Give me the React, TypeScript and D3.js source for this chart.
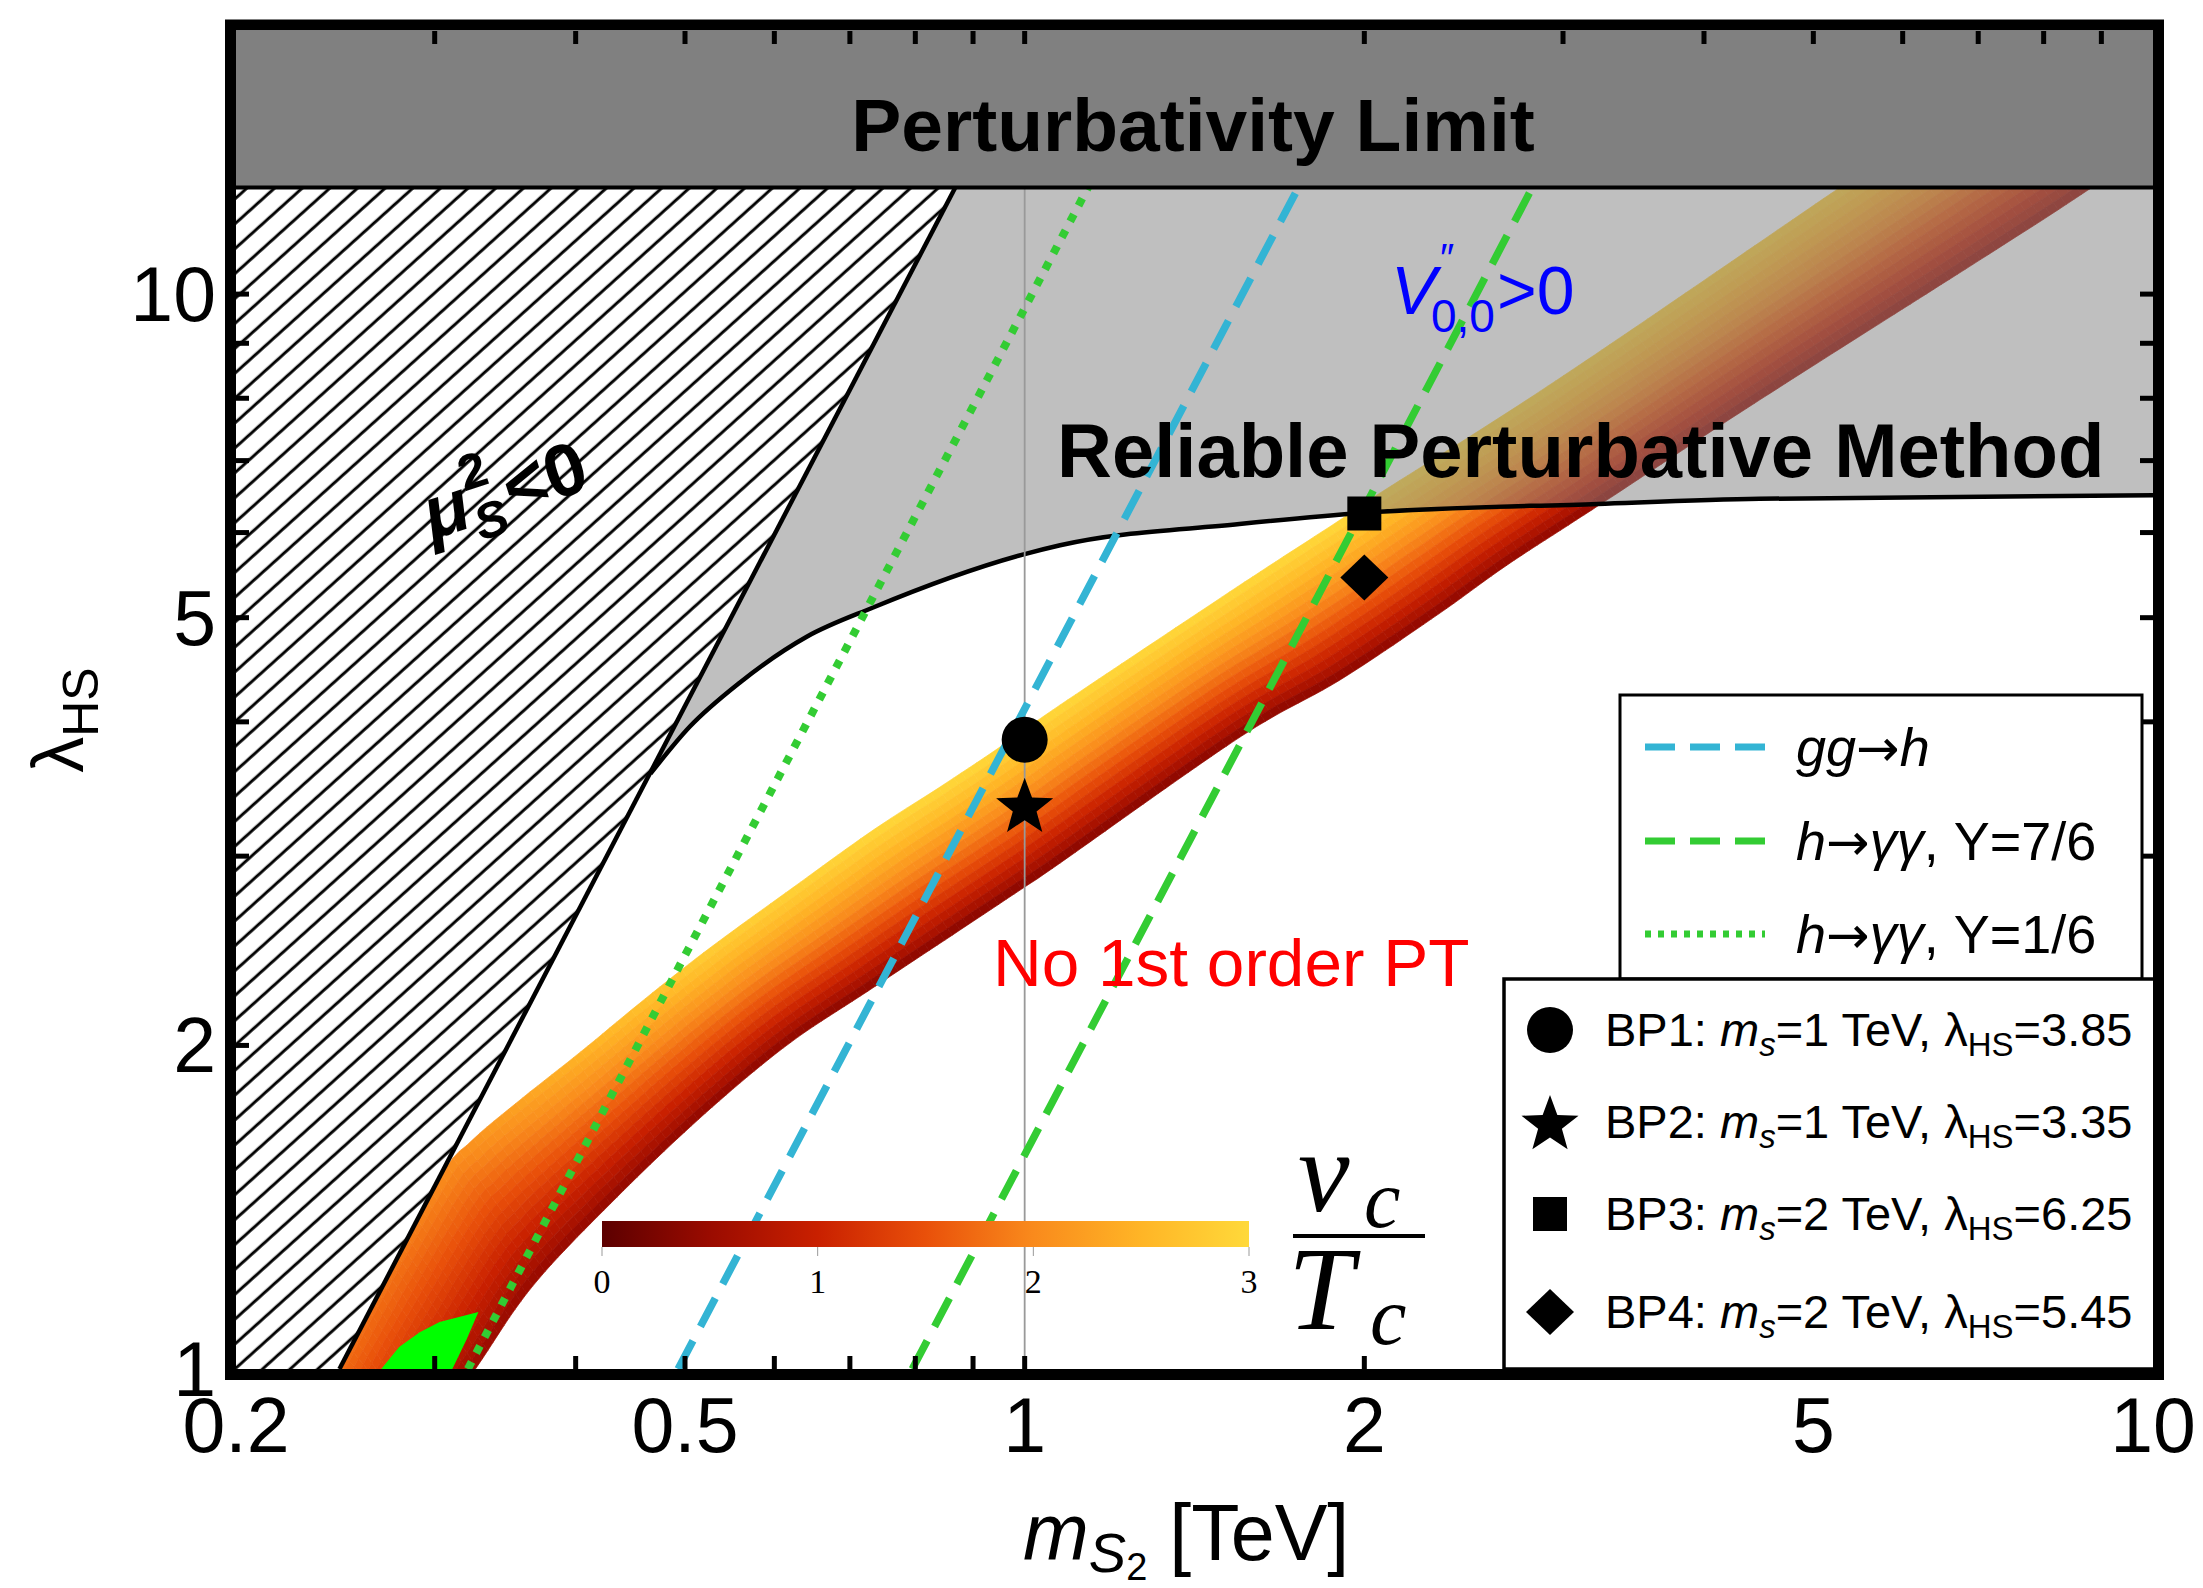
import React, { useMemo } from 'react';
import * as d3 from 'd3';

const WIDTH = 2203;
const HEIGHT = 1588;

// ---- axes ----
const X_DOMAIN: [number, number] = [0.2, 10];
const Y_DOMAIN: [number, number] = [1, 17.57];
const xMinorTicks = [0.3, 0.4, 0.5, 0.6, 0.7, 0.8, 0.9, 1, 2, 3, 4, 5, 6, 7, 8, 9];
const xLabelTicks = [0.2, 0.5, 1, 2, 5, 10];
const yMinorTicks = [2, 3, 4, 5, 6, 7, 8, 9, 10];
const yLabelTicks = [1, 2, 5, 10];
const PERT_LIMIT = 12.566; // 4*pi

// ---- regions / curves (m_S2 [TeV], lambda_HS) ----
const muBoundary: [number, number][] = [[0.247, 1], [0.868, 12.566]];
const reliableCurve: [number, number][] = [
  [0.466, 3.58], [0.505, 3.96], [0.559, 4.35], [0.641, 4.8], [0.734, 5.11], [1.0, 5.73],
  [1.075, 5.84], [1.55, 6.11], [2.0, 6.26], [3.22, 6.38], [4.48, 6.45], [10, 6.5],
];
const gghLine: [number, number][] = [[0.493, 1], [1.748, 12.566]];
const hgg76Line: [number, number][] = [[0.795, 1], [2.818, 12.566]];
const hgg16Line: [number, number][] = [[0.321, 1], [1.138, 12.566]];

// v_c/T_c band: upper-left edge and lower-right edge
const bandUpper: [number, number][] = [
  [0.223, 0.805], [0.246, 1.0], [0.302, 1.493], [0.322, 1.623], [0.357, 1.779], [0.404, 1.972],
  [0.456, 2.19], [0.523, 2.453], [0.619, 2.79], [0.734, 3.172], [0.841, 3.478], [0.951, 3.79],
  [1.075, 4.147], [1.552, 5.362], [1.903, 6.163], [2.065, 6.53], [2.963, 8.317], [5.28, 12.57],
  [7.32, 15.88],
];
const bandLower: [number, number][] = [
  [0.294, 0.859], [0.326, 1.0], [0.367, 1.197], [0.436, 1.448], [0.519, 1.723], [0.616, 2.002],
  [0.731, 2.257], [0.871, 2.55], [0.997, 2.802], [1.075, 2.956], [1.552, 3.872], [1.903, 4.375],
  [2.334, 5.05], [2.676, 5.596], [3.22, 6.35], [4.48, 7.97], [7.32, 11.06], [8.83, 12.57], [12.19, 15.8],
];
const bandValueM = [0.22, 0.3, 0.4, 0.55, 0.8, 1.2, 2, 4, 10];
const bandValueUpper = [1.6, 1.85, 2.4, 2.85, 3.0, 3.0, 3.0, 2.9, 2.8];
const bandValueLower = [0.5, 0.45, 0.35, 0.3, 0.25, 0.25, 0.3, 0.35, 0.4];

const greenBlob: [number, number][] = [
  [0.269, 1], [0.279, 1.048], [0.291, 1.082], [0.303, 1.106], [0.328, 1.13], [0.32, 1.064], [0.311, 1],
];

// colour map for v_c/T_c
const cmapValues = [0, 0.5, 1, 1.5, 2, 2.5, 3];
const cmapColors = ['#5c0000', '#9a0b00', '#c92000', '#e9500a', '#f98a1c', '#ffb526', '#ffd93a'];
const colorbarTicks = [0, 1, 2, 3];

// benchmark points
const bpNames = ['BP1', 'BP2', 'BP3', 'BP4'];
const bpMass = [1, 1, 2, 2];
const bpLambda = [3.85, 3.35, 6.25, 5.45];
const bpShapes = ['circle', 'star', 'square', 'diamond'];

const lineLegendLabels = ['gg→h', 'h→γγ, Y=7/6', 'h→γγ, Y=1/6'];

const CYAN = '#33b4d4';
const GREEN = '#33cc33';
const FONT = "'Liberation Sans', Arial, Helvetica, sans-serif";
const SERIF = "'Liberation Serif', 'Times New Roman', serif";

function markerPath(shape: string, cx: number, cy: number): string {
  if (shape === 'circle') {
    const r = 23;
    return `M${cx - r},${cy}a${r},${r} 0 1,0 ${2 * r},0a${r},${r} 0 1,0 ${-2 * r},0Z`;
  }
  if (shape === 'square') {
    const h = 17;
    return `M${cx - h},${cy - h}H${cx + h}V${cy + h}H${cx - h}Z`;
  }
  if (shape === 'diamond') {
    const hw = 24, hh = 23;
    return `M${cx},${cy - hh}L${cx + hw},${cy}L${cx},${cy + hh}L${cx - hw},${cy}Z`;
  }
  const ro = 30, ri = 12.5;
  const pts: string[] = [];
  for (let i = 0; i < 10; i++) {
    const a = -Math.PI / 2 + (i * Math.PI) / 5;
    const r = i % 2 === 0 ? ro : ri;
    pts.push(`${cx + r * Math.cos(a)},${cy + r * Math.sin(a) + 3}`);
  }
  return `M${pts.join('L')}Z`;
}

// Catmull-Rom densification of a pixel polyline (rendering only)
function smooth(pts: number[][], steps = 8): number[][] {
  const out: number[][] = [];
  const n = pts.length;
  for (let i = 0; i < n - 1; i++) {
    const p0 = pts[Math.max(i - 1, 0)], p1 = pts[i], p2 = pts[i + 1], p3 = pts[Math.min(i + 2, n - 1)];
    for (let k = 0; k < steps; k++) {
      const t = k / steps, t2 = t * t, t3 = t2 * t;
      out.push([0, 1].map((c) =>
        0.5 * (2 * p1[c] + (-p0[c] + p2[c]) * t + (2 * p0[c] - 5 * p1[c] + 4 * p2[c] - p3[c]) * t2 +
          (-p0[c] + 3 * p1[c] - 3 * p2[c] + p3[c]) * t3)));
    }
  }
  out.push(pts[n - 1]);
  return out;
}

export default function App() {
  const x = d3.scaleLog().domain(X_DOMAIN).range([236, 2153]);
  const y = d3.scaleLog().domain(Y_DOMAIN).range([1369, 31]);
  const L = 236, R = 2153, T = 31, B = 1369;

  const cmap = d3
    .scaleLinear<string>()
    .domain(cmapValues)
    .range(cmapColors)
    .interpolate(d3.interpolateRgb)
    .clamp(true);

  const bandPolys = useMemo(() => {
    const dx = 0.815, dy = -0.58;
    const proj = (p: number[]) => p[0] * dx + p[1] * dy;
    const up = smooth(bandUpper.map(([m, l]) => [x(m), y(l)]));
    const lo = smooth(bandLower.map(([m, l]) => [x(m), y(l)]));
    const sample = (poly: number[][], ss: number[], s: number) => {
      if (s <= ss[0]) return poly[0];
      if (s >= ss[ss.length - 1]) return poly[poly.length - 1];
      let i = 0;
      while (ss[i + 1] < s) i++;
      const t = (s - ss[i]) / (ss[i + 1] - ss[i] || 1);
      return [poly[i][0] + t * (poly[i + 1][0] - poly[i][0]), poly[i][1] + t * (poly[i + 1][1] - poly[i][1])];
    };
    const su = up.map(proj), sl = lo.map(proj);
    const sMin = Math.min(su[0], sl[0]);
    const sMax = Math.max(su[su.length - 1], sl[sl.length - 1]);
    const N = 260;
    const S = d3.range(N + 1).map((i) => sMin + ((sMax - sMin) * i) / N);
    const U = S.map((s) => sample(up, su, s));
    const Lo = S.map((s) => sample(lo, sl, s));
    const logM = bandValueM.map(Math.log10);
    const vU = d3.scaleLinear().domain(logM).range(bandValueUpper).clamp(true);
    const vL = d3.scaleLinear().domain(logM).range(bandValueLower).clamp(true);
    const strips = 16;
    const out: { d: string; c: string }[] = [];
    const lerp = (a: number[], b: number[], t: number) => [a[0] + (b[0] - a[0]) * t, a[1] + (b[1] - a[1]) * t];
    for (let i = 0; i < N; i++) {
      const cx = (U[i][0] + Lo[i][0]) / 2;
      const lm = Math.log10(x.invert(cx));
      const vu = vU(lm), vl = vL(lm);
      for (let j = 0; j < strips; j++) {
        const t0 = j / strips, t1 = (j + 1) / strips;
        const p = [lerp(U[i], Lo[i], t0), lerp(U[i + 1], Lo[i + 1], t0), lerp(U[i + 1], Lo[i + 1], t1), lerp(U[i], Lo[i], t1)];
        const tm = (t0 + t1) / 2;
        const v = vl + (vu - vl) * Math.pow(1 - tm, 0.8);
        out.push({ d: `M${p.map((q) => q[0].toFixed(1) + ',' + q[1].toFixed(1)).join('L')}Z`, c: cmap(v) });
      }
    }
    return out;
  }, []);

  const line = d3.line<[number, number]>().x((d) => x(d[0])).y((d) => y(d[1]));
  const curveLine = d3
    .line<[number, number]>()
    .x((d) => x(d[0]))
    .y((d) => y(d[1]))
    .curve(d3.curveMonotoneX);

  const curveD = curveLine(reliableCurve) as string;
  const grayRegionD = `${curveD}L${x(10)},${y(PERT_LIMIT)}L${x(muBoundary[1][0])},${y(PERT_LIMIT)}Z`;
  const hatchD = `M${L},${B}L${x(muBoundary[0][0])},${y(muBoundary[0][1])}L${x(muBoundary[1][0])},${y(muBoundary[1][1])}L${L},${y(PERT_LIMIT)}Z`;

  const cbX = d3.scaleLinear().domain([0, 3]).range([602, 1249]);
  const legend1Rows = [747, 841, 934];
  const legend2Rows = [1030, 1122, 1214, 1312];
  const ARROW = "'DejaVu Sans', sans-serif";

  return (
    <svg width={WIDTH} height={HEIGHT} style={{ position: 'absolute', left: 0, top: 0, background: '#fff' }} fontFamily={FONT}>
      <defs>
        <clipPath id="plot">
          <rect x={L} y={T} width={R - L} height={B - T} />
        </clipPath>
        <pattern id="hatch" patternUnits="userSpaceOnUse" width="40" height="18.5" patternTransform="rotate(-42)">
          <rect width="40" height="18.5" fill="#fff" />
          <line x1="0" y1="9" x2="40" y2="9" stroke="#000" strokeWidth="2.8" />
        </pattern>
        <linearGradient id="cbar" x1="0" x2="1" y1="0" y2="0">
          {cmapValues.map((v, i) => (
            <stop key={i} offset={v / 3} stopColor={cmapColors[i]} />
          ))}
        </linearGradient>
      </defs>

      <rect x={0} y={0} width={WIDTH} height={HEIGHT} fill="#fff" />

      <g clipPath="url(#plot)">
        <g>
          {bandPolys.map((p, i) => (
            <path key={i} d={p.d} fill={p.c} stroke={p.c} strokeWidth={0.7} />
          ))}
        </g>
        <path d={(line(greenBlob) as string) + 'Z'} fill="#00ff00" />
        <path d={grayRegionD} fill="#808080" fillOpacity={0.5} />
        <path d={hatchD} fill="url(#hatch)" />
        <path d={line(muBoundary) as string} stroke="#000" strokeWidth={4.5} fill="none" />
        <path d={curveD} stroke="#000" strokeWidth={4.5} fill="none" />
        <line x1={x(1)} x2={x(1)} y1={B} y2={y(PERT_LIMIT)} stroke="#999" strokeWidth={1.8} />
        <path d={line(gghLine) as string} stroke={CYAN} strokeWidth={7.5} strokeDasharray="32,16" fill="none" />
        <path d={line(hgg76Line) as string} stroke={GREEN} strokeWidth={7.5} strokeDasharray="32,16" fill="none" />
        <path d={line(hgg16Line) as string} stroke={GREEN} strokeWidth={8} strokeDasharray="8,10" fill="none" />
        <rect x={L} y={T} width={R - L} height={y(PERT_LIMIT) - T} fill="#808080" />
        <line x1={L} x2={R} y1={y(PERT_LIMIT)} y2={y(PERT_LIMIT)} stroke="#000" strokeWidth={4} />
        {bpNames.map((n, i) => (
          <path key={n} d={markerPath(bpShapes[i], x(bpMass[i]), y(bpLambda[i]))} fill="#000" />
        ))}
      </g>

      {/* region labels */}
      <text x={1193} y={151} fontSize={75} fontWeight="bold" textAnchor="middle">Perturbativity Limit</text>
      <text x={1057} y={477} fontSize={76} fontWeight="bold">Reliable Perturbative Method</text>
      <text x={993} y={986} fontSize={67.5} fill="#ff0000">No 1st order PT</text>
      <g fill="#0000ff">
        <text x={1391} y={314} fontSize={68} fontStyle="italic">V</text>
        <text x={1440} y={272} fontSize={40}>″</text>
        <text x={1431} y={332} fontSize={46}>0,0</text>
        <text x={1497} y={314} fontSize={68}>&gt;0</text>
      </g>
      <g transform="translate(432,540) rotate(-18)" fontWeight="bold">
        <text x={0} y={0} fontSize={74} fontStyle="italic">μ</text>
        <text x={46} y={-36} fontSize={50}>2</text>
        <text x={46} y={16} fontSize={50} fontStyle="italic">S</text>
        <text x={84} y={0} fontSize={74}>&lt;0</text>
      </g>

      {/* colour bar */}
      <rect x={cbX(0)} y={1221} width={cbX(3) - cbX(0)} height={26} fill="url(#cbar)" />
      {colorbarTicks.map((t) => (
        <g key={t}>
          <line x1={cbX(t)} x2={cbX(t)} y1={1247} y2={1256} stroke="#999" strokeWidth={1} />
          <text x={cbX(t)} y={1293} fontSize={34} fontFamily={SERIF} textAnchor="middle">{t}</text>
        </g>
      ))}
      <g fontFamily={SERIF} fontStyle="italic">
        <text x={1298} y={1211} fontSize={116}>v</text>
        <text x={1364} y={1227} fontSize={82}>c</text>
        <line x1={1293} x2={1425} y1={1236} y2={1236} stroke="#000" strokeWidth={4} />
        <text x={1288} y={1329} fontSize={118}>T</text>
        <text x={1370} y={1344} fontSize={82}>c</text>
      </g>

      {/* ticks */}
      <g stroke="#000" strokeWidth={5}>
        {xMinorTicks.map((t) => (
          <g key={`x${t}`}>
            <line x1={x(t)} x2={x(t)} y1={B} y2={B - 13} />
            <line x1={x(t)} x2={x(t)} y1={T} y2={T + 13} />
          </g>
        ))}
        {yMinorTicks.map((t) => (
          <g key={`y${t}`}>
            <line x1={L} x2={L + 13} y1={y(t)} y2={y(t)} />
            <line x1={R} x2={R - 13} y1={y(t)} y2={y(t)} />
          </g>
        ))}
      </g>

      {/* legend 1: lines */}
      <rect x={1620} y={695} width={522} height={284} fill="#fff" stroke="#000" strokeWidth={3} />
      {legend1Rows.map((ry, i) => (
        <g key={i}>
          <line
            x1={1645}
            x2={1765}
            y1={ry}
            y2={ry}
            stroke={i === 0 ? CYAN : GREEN}
            strokeWidth={7}
            strokeDasharray={i === 2 ? '6,7' : '30,15'}
          />
          <text x={1796} y={ry + 19} fontSize={54}>
            {i === 0 ? (
              <tspan fontStyle="italic">gg<tspan fontFamily={ARROW} fontStyle="normal" fontSize={52}>→</tspan>h</tspan>
            ) : (
              <>
                <tspan fontStyle="italic">h<tspan fontFamily={ARROW} fontStyle="normal" fontSize={52}>→</tspan>γγ</tspan>
                <tspan>{lineLegendLabels[i].slice(4)}</tspan>
              </>
            )}
          </text>
        </g>
      ))}

      {/* legend 2: benchmark points */}
      <rect x={1504} y={979} width={651} height={390} fill="#fff" stroke="#000" strokeWidth={3.5} />
      {legend2Rows.map((ry, i) => (
        <g key={i}>
          <path d={markerPath(bpShapes[i], 1550, ry)} fill="#000" />
          <text x={1605} y={ry + 16} fontSize={47}>
            {bpNames[i]}: <tspan fontStyle="italic">m</tspan>
            <tspan fontStyle="italic" fontSize={33} dy={10}>s</tspan>
            <tspan dy={-10}>={bpMass[i]} TeV, λ</tspan>
            <tspan fontSize={33} dy={10}>HS</tspan>
            <tspan dy={-10}>={bpLambda[i].toFixed(2)}</tspan>
          </text>
        </g>
      ))}

      {/* frame */}
      <rect x={230.5} y={25} width={1928} height={1349.5} fill="none" stroke="#000" strokeWidth={11} />

      {/* tick labels */}
      {xLabelTicks.map((t) => (
        <text key={`xl${t}`} x={x(t)} y={1452} fontSize={77} textAnchor="middle">{t}</text>
      ))}
      {yLabelTicks.map((t) => (
        <text key={`yl${t}`} x={216} y={y(t) + 27} fontSize={77} textAnchor="end">{t}</text>
      ))}

      {/* axis titles */}
      <text x={1023} y={1560} fontSize={79}>
        <tspan fontStyle="italic">m</tspan>
        <tspan fontStyle="italic" fontSize={56} dy={12}>S</tspan>
        <tspan fontSize={38} dy={8}>2</tspan>
        <tspan dy={-20}> [TeV]</tspan>
      </text>
      <text transform="translate(83,720) rotate(-90)" fontSize={72} textAnchor="middle">
        λ<tspan fontSize={50} dy={15}>HS</tspan>
      </text>
    </svg>
  );
}
